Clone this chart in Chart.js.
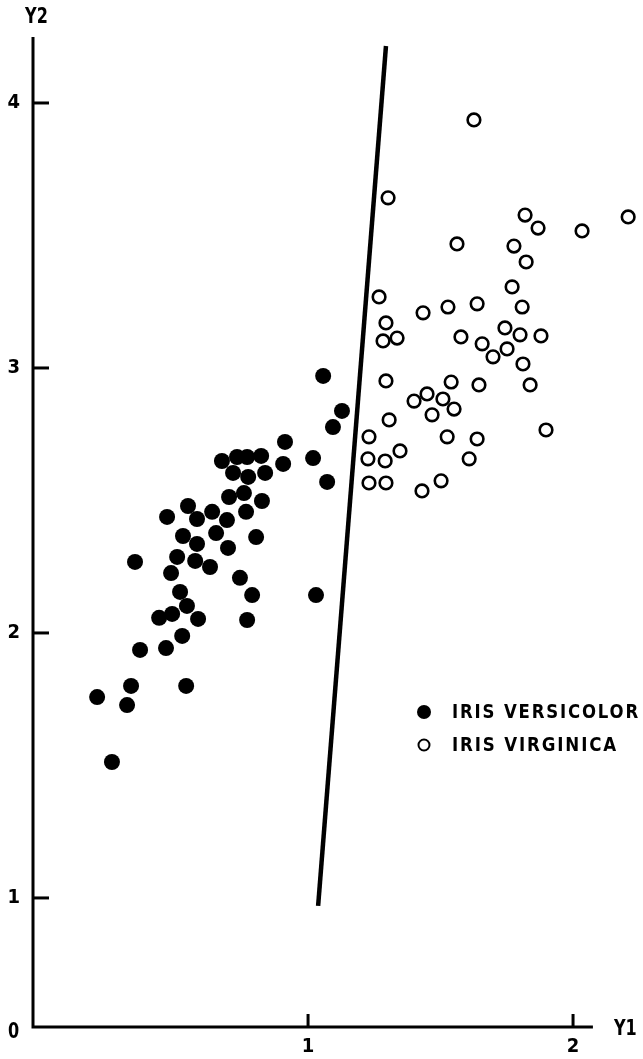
<!DOCTYPE html>
<html>
<head>
<meta charset="utf-8">
<script src="https://cdn.jsdelivr.net/npm/chart.js@4.4.1/dist/chart.umd.min.js"></script>
<style>
  html, body { margin: 0; padding: 0; background: #fff; }
  #wrap { width: 643px; height: 1059px; }
</style>
</head>
<body>
<div id="wrap"><canvas id="grafica" width="643" height="1059"></canvas></div>
<script>
// datos
const versicolor = [
  [1.057, 2.970], [1.128, 2.838], [1.094, 2.777], [0.913, 2.721], [0.906, 2.638],
  [1.019, 2.660], [1.072, 2.570], [0.675, 2.649], [0.732, 2.664], [0.770, 2.664],
  [0.823, 2.668], [0.717, 2.604], [0.774, 2.589], [0.838, 2.604], [0.702, 2.513],
  [0.758, 2.528], [0.826, 2.498], [0.766, 2.457], [0.547, 2.479], [0.468, 2.438],
  [0.581, 2.430], [0.638, 2.457], [0.694, 2.426], [0.653, 2.377], [0.528, 2.366],
  [0.581, 2.336], [0.698, 2.321], [0.804, 2.362], [0.506, 2.287], [0.574, 2.272],
  [0.630, 2.249], [0.347, 2.268], [0.483, 2.226], [0.743, 2.208], [0.789, 2.143],
  [1.030, 2.143], [0.517, 2.155], [0.543, 2.102], [0.438, 2.057], [0.487, 2.072],
  [0.585, 2.053], [0.770, 2.049], [0.525, 1.989], [0.366, 1.936], [0.464, 1.943],
  [0.332, 1.800], [0.540, 1.800], [0.204, 1.758], [0.317, 1.728], [0.260, 1.513]
];
const virginica = [
  [1.626, 3.936], [1.302, 3.642], [1.819, 3.577], [1.868, 3.528], [2.208, 3.570],
  [2.034, 3.517], [1.562, 3.468], [1.777, 3.460], [1.823, 3.400], [1.770, 3.306],
  [1.268, 3.268], [1.434, 3.208], [1.528, 3.230], [1.638, 3.242], [1.808, 3.230],
  [1.294, 3.170], [1.283, 3.102], [1.336, 3.113], [1.577, 3.117], [1.657, 3.091],
  [1.743, 3.151], [1.800, 3.125], [1.879, 3.121], [1.751, 3.072], [1.698, 3.042],
  [1.811, 3.015], [1.294, 2.951], [1.540, 2.947], [1.645, 2.936], [1.838, 2.936],
  [1.449, 2.902], [1.400, 2.875], [1.509, 2.883], [1.551, 2.845], [1.468, 2.823],
  [1.306, 2.804], [1.898, 2.766], [1.230, 2.740], [1.525, 2.740], [1.638, 2.732],
  [1.347, 2.687], [1.226, 2.657], [1.291, 2.649], [1.608, 2.657], [1.230, 2.566],
  [1.294, 2.566], [1.430, 2.536], [1.502, 2.574]
];
const linea = [[1.038, 0.970], [1.294, 4.215]];
const xTicks = [1, 2];
const yTicks = [1, 2, 3, 4];
const xAxisEnd = 2.075;   // el eje Y1 termina antes del ultimo punto
const labelsLeyenda = ["IRIS VERSICOLOR", "IRIS VIRGINICA"];

const fuente = '"DejaVu Sans Condensed", "DejaVu Sans", sans-serif';
const toXY = arr => arr.map(p => ({ x: p[0], y: p[1] }));

// texto estrecho (la figura usa una letra condensada)
function textoEstrecho(ctx, t, x, y, sx) {
  ctx.save();
  ctx.translate(x, y);
  ctx.scale(sx, 1);
  ctx.fillText(t, 0, 0);
  ctx.restore();
}

// ejes, ticks hacia adentro, titulos y leyenda
const extras = {
  id: 'extras',
  afterDraw(chart) {
    const ctx = chart.ctx;
    const xs = chart.scales.x, ys = chart.scales.y;
    const a = chart.chartArea;
    const xEnd = xs.getPixelForValue(xAxisEnd);
    ctx.save();
    ctx.strokeStyle = '#000';
    ctx.lineWidth = 3;
    ctx.lineCap = 'butt';
    ctx.beginPath();
    ctx.moveTo(a.left, a.top);
    ctx.lineTo(a.left, a.bottom);
    ctx.lineTo(xEnd, a.bottom);
    ctx.stroke();
    yTicks.forEach(v => {
      const py = ys.getPixelForValue(v);
      ctx.beginPath(); ctx.moveTo(a.left, py); ctx.lineTo(a.left + 16, py); ctx.stroke();
    });
    xTicks.forEach(v => {
      const px = xs.getPixelForValue(v);
      ctx.beginPath(); ctx.moveTo(px, a.bottom); ctx.lineTo(px, a.bottom - 13); ctx.stroke();
    });
    ctx.fillStyle = '#000';
    ctx.font = 'bold 21px ' + fuente;
    ctx.textBaseline = 'middle';
    ctx.textAlign = 'left';
    textoEstrecho(ctx, 'Y2', 25, 18, 0.85);
    textoEstrecho(ctx, '0', 8, a.bottom + 6, 0.85);
    textoEstrecho(ctx, 'Y1', xEnd + 21, a.bottom + 3, 0.85);

    // leyenda
    const lx = 424, ly = [712, 745], anchos = [188, 166];
    ctx.beginPath(); ctx.arc(lx, ly[0], 7, 0, Math.PI * 2); ctx.fill();
    ctx.beginPath(); ctx.arc(lx, ly[1], 5.5, 0, Math.PI * 2);
    ctx.lineWidth = 2; ctx.stroke();
    ctx.font = 'bold 20px ' + fuente;
    ctx.letterSpacing = '2px';
    labelsLeyenda.forEach((t, i) => {
      const w = ctx.measureText(t).width;
      textoEstrecho(ctx, t, 452, ly[i] + 1, anchos[i] / w);
    });
    ctx.restore();
  }
};

const chart = new Chart(document.getElementById('grafica'), {
  type: 'scatter',
  data: {
    datasets: [
      {
        label: labelsLeyenda[0],
        data: toXY(versicolor),
        pointRadius: 8,
        backgroundColor: '#000',
        borderColor: '#000',
        borderWidth: 0
      },
      {
        label: labelsLeyenda[1],
        data: toXY(virginica),
        pointRadius: 6.3,
        backgroundColor: '#fff',
        borderColor: '#000',
        borderWidth: 2.6
      },
      {
        label: 'linea',
        data: toXY(linea),
        showLine: true,
        pointRadius: 0,
        borderColor: '#000',
        borderWidth: 4.5,
        fill: false,
        clip: false
      }
    ]
  },
  options: {
    responsive: false,
    animation: false,
    events: [],
    layout: { autoPadding: false, padding: { top: 37, right: 0, left: 0, bottom: 0 } },
    plugins: { legend: { display: false }, tooltip: { enabled: false } },
    scales: {
      x: {
        type: 'linear',
        min: -0.038,
        max: 2.264,
        afterFit(s) { s.height = 32; },
        afterBuildTicks(s) { s.ticks = xTicks.map(v => ({ value: v })); },
        grid: { display: false, drawTicks: false },
        border: { display: false },
        ticks: { color: '#000', padding: 8, font: { family: fuente, size: 20, weight: 'bold' } }
      },
      y: {
        type: 'linear',
        min: 0.513,
        max: 4.249,
        afterFit(s) { s.width = 33; },
        afterBuildTicks(s) { s.ticks = yTicks.map(v => ({ value: v })); },
        grid: { display: false, drawTicks: false },
        border: { display: false },
        ticks: { color: '#000', padding: 13, font: { family: fuente, size: 20, weight: 'bold' } }
      }
    }
  },
  plugins: [extras]
});
</script>
</body>
</html>
